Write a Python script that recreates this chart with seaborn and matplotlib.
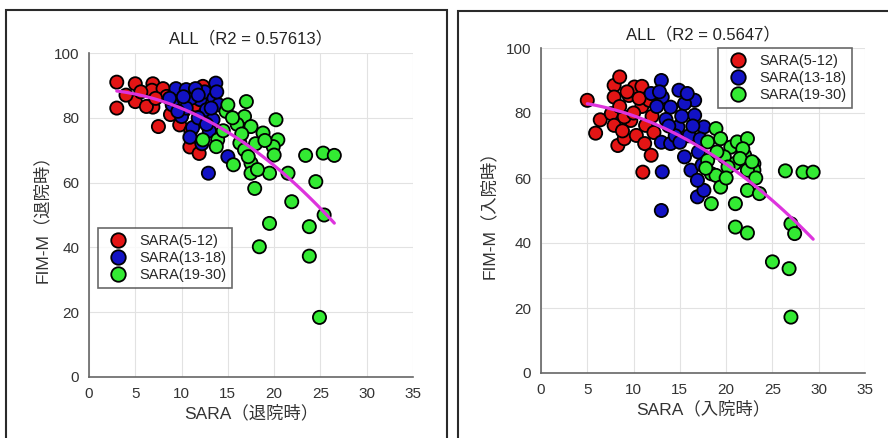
import numpy as np
import pandas as pd
import matplotlib
matplotlib.use("Agg")
import matplotlib.pyplot as plt
from matplotlib.patches import Rectangle
import seaborn as sns

# ---------------- data ----------------
groups = ["SARA(5-12)", "SARA(13-18)", "SARA(19-30)"]
colors = ["#e31515", "#1212c4", "#33ea33"]

titles = ["ALL（R2 = 0.57613）", "ALL（R2 = 0.5647）"]
xlabels = ["SARA（退院時）", "SARA（入院時）"]
ylabels = ["FIM-M（退院時）", "FIM-M（入院時）"]
xticks = [0, 5, 10, 15, 20, 25, 30, 35]
yticks = [0, 20, 40, 60, 80, 100]

# left chart (discharge)
left_red_x = [3, 5, 3, 5, 6.9, 6.8, 6.9, 7.5, 8, 6.2, 8.4, 9.8, 10.9, 11.9, 12.3, 9, 7.2, 4, 8.8, 10.2, 11, 12, 5.6, 10.5, 11.5]
left_red_y = [91, 90.5, 83, 85, 90.5, 88.5, 83.3, 77.3, 89, 83.5, 86.6, 77.8, 71, 69, 89.7, 84, 86, 87, 81, 82, 76, 80, 88, 86, 84]
left_blue_x = [9.4, 10.5, 13.7, 10, 11.2, 12.9, 15, 10.9, 12, 12.7, 13.4, 9, 11, 12.5, 13.5, 10.5, 11.8, 13, 9.6, 12.2, 14, 11.5, 13.2, 12.7, 10.2, 8.7, 11.8, 13.8]
left_blue_y = [89, 88.7, 90.7, 80.4, 77, 62.9, 68, 74, 85.6, 82.5, 79.4, 84, 86, 88, 86, 83, 80, 76, 82, 72, 84, 89, 83, 78, 86.5, 86, 87, 88]
left_green_x = [14.8, 15, 17, 16.8, 17.5, 12.3, 13.9, 13.75, 15.6, 16.3, 16.8, 17.5, 17.5, 17.9, 18.8, 20.2, 20.4, 19.9, 20, 19.5,
                21.5, 19.5, 21.9, 18.4, 23.4, 25.3, 26.5, 24.5, 25.4, 23.8, 23.8, 24.9, 16, 16.5, 18, 15.5, 17.2, 19, 14.5, 18.2]
left_green_y = [82, 84, 85, 80.4, 77.3, 73.2, 73.2, 71.1, 65.5, 72.2, 70.1, 66, 62.9, 58.2, 75.3, 79.4, 73.2, 71.1, 68.5, 62.9,
                62.9, 47.4, 54.1, 40.2, 68.4, 69.1, 68.4, 60.3, 50, 46.4, 37.3, 18.4, 78, 75, 72, 80, 68, 73, 76, 64]

# right chart (admission)
right_red_x = [5, 5.9, 6.4, 7.6, 7.9, 8.5, 7.9, 7.9, 8.3, 9, 9.5, 10.1, 10.3, 10.9, 10.9, 11.2, 11.3, 11, 11.9, 9.7, 9, 11.7, 8.5, 10, 12, 9.3, 10.6, 12.2, 8.8]
right_red_y = [83.9, 73.8, 77.9, 79.8, 88.5, 91.1, 84.9, 76.2, 70, 72.1, 85.4, 88, 73.1, 88.2, 82, 70.6, 76.2, 61.8, 67, 77.7, 78.8, 83.9, 82, 80, 79, 86.5, 84.5, 74, 74.5]
right_blue_x = [13, 14.9, 16.6, 13.1, 14, 15.5, 16.6, 17.6, 13, 14, 15.5, 16.2, 16.9, 17.6, 13.1, 13, 16.9, 14.8, 11.9, 12.5, 13.5, 15.2, 16, 17, 14.5, 16.4, 12.8, 15.8, 17.4, 13.8, 17.2, 15]
right_blue_y = [90, 87, 83.9, 84.9, 81.8, 82.9, 79.3, 75.7, 71, 70.6, 66.5, 62.4, 54.2, 56.2, 61.9, 50, 59.3, 75.7, 86, 82, 78, 79, 73, 68, 73, 76, 86.5, 86, 64, 76, 72, 71]
right_green_x = [18, 18.9, 19.4, 20.5, 21.2, 22.3, 22, 23, 23, 22.3, 20.9, 18.4, 18.9, 19.4, 18.4, 21, 22.3, 23.6, 21, 22.3,
                 25, 26.8, 27, 26.4, 28.3, 29.4, 27, 27.4, 19.8, 18, 20.2, 21.8, 19, 20, 23.2, 17.8, 21.5, 22.8]
right_green_y = [71.1, 75.2, 72.1, 69.5, 71.1, 72.1, 67, 64.4, 62.4, 62.4, 64.4, 61.3, 60.8, 57.2, 52.1, 52.1, 56.2, 55.2, 44.9, 43.1,
                 34.2, 32.1, 17.2, 62.2, 61.8, 61.8, 45.9, 42.9, 66.5, 65.4, 63.4, 69, 68, 60, 60, 63, 66, 65]


def make_df(xs, ys):
    frames = []
    for g, x, y in zip(groups, xs, ys):
        frames.append(pd.DataFrame({"x": x, "y": y, "group": g}))
    return pd.concat(frames, ignore_index=True)


dfs = [
    make_df([left_red_x, left_blue_x, left_green_x], [left_red_y, left_blue_y, left_green_y]),
    make_df([right_red_x, right_blue_x, right_green_x], [right_red_y, right_blue_y, right_green_y]),
]

# ---------------- style ----------------
sns.set_style("white")
plt.rcParams["font.family"] = ["Liberation Sans", "Noto Sans CJK JP", "DejaVu Sans"]

fig = plt.figure(figsize=(8.88, 4.38), dpi=100)

# chart-area frames
fig.patches.append(Rectangle((6 / 888, -0.1), 441 / 888, 1.1 - 10 / 438, transform=fig.transFigure,
                             fill=False, edgecolor="#2a2a2a", linewidth=1.5, zorder=0))
fig.patches.append(Rectangle((458 / 888, -0.1), 0.6, 1.1 - 11 / 438, transform=fig.transFigure,
                             fill=False, edgecolor="#2a2a2a", linewidth=1.5, zorder=0))

axes_pos = [
    [89 / 888, 1 - 377 / 438, 324 / 888, 324 / 438],
    [541 / 888, 1 - 373 / 438, 324 / 888, 325 / 438],
]
legend_cfg = [
    dict(loc="upper left", bbox_to_anchor=(0.028, 0.46)),
    dict(loc="upper right", bbox_to_anchor=(0.96, 1.0)),
]
title_pad = [7, 6]
ylabel_pad = [3, 6]

pal = dict(zip(groups, colors))

for i in range(2):
    ax = fig.add_axes(axes_pos[i])
    df = dfs[i]
    sns.scatterplot(data=df, x="x", y="y", hue="group", hue_order=groups, palette=pal,
                    s=90, edgecolor="black", linewidth=1.3, ax=ax, zorder=3)
    sns.regplot(data=df, x="x", y="y", order=2, scatter=False, ci=None, ax=ax,
                line_kws=dict(color="#dd33dd", linewidth=2.3, zorder=4))
    ax.set_xlim(0, 35)
    ax.set_ylim(0, 100)
    ax.set_xticks(xticks)
    ax.set_yticks(yticks)
    ax.grid(True, color="#e2e2e2", linewidth=0.8)
    ax.set_axisbelow(True)
    for s in ["top", "right"]:
        ax.spines[s].set_visible(False)
    for s in ["left", "bottom"]:
        ax.spines[s].set_color("#666666")
        ax.spines[s].set_linewidth(1.2)
    ax.tick_params(axis="both", direction="inout", length=4, width=1, color="#666666",
                   labelsize=11, labelcolor="#333333", pad=5)
    ax.set_xlabel(xlabels[i], fontsize=12.5, color="#333333", labelpad=3)
    ax.set_ylabel(ylabels[i], fontsize=12.5, color="#333333", labelpad=ylabel_pad[i])
    ax.set_title(titles[i], fontsize=12, color="#222222", pad=title_pad[i])
    leg = ax.legend(title=None, fontsize=10.5, frameon=True, fancybox=False, borderaxespad=0,
                    handletextpad=0.5, labelspacing=0.22, borderpad=0.4, handlelength=1.9,
                    markerscale=1.1, **legend_cfg[i])
    leg.get_frame().set_edgecolor("#444444")
    leg.get_frame().set_linewidth(1.2)

fig.savefig("out.png", dpi=100)
